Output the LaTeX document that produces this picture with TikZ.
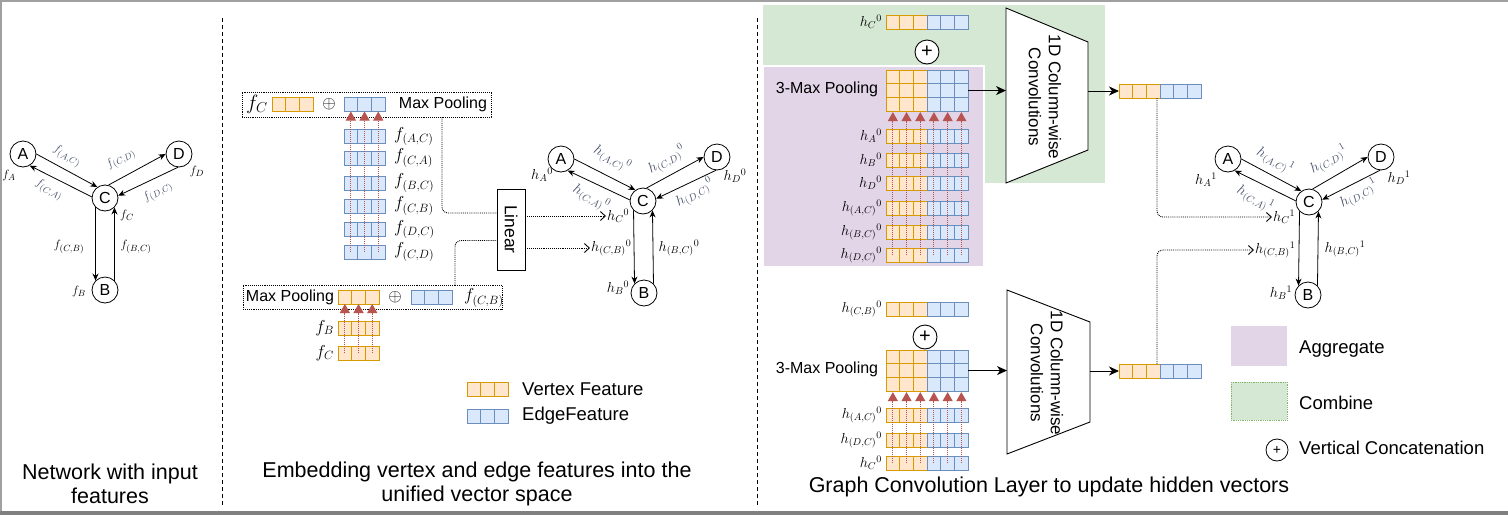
\documentclass[tikz,border=0pt]{standalone}
\usepackage{fontspec}
\usepackage{graphicx}
\setmainfont{Liberation Sans}
\usetikzlibrary{arrows.meta,calc}
\definecolor{ofill}{HTML}{FFE6CC}
\definecolor{odraw}{HTML}{D79B00}
\definecolor{bfill}{HTML}{DAE8FC}
\definecolor{bdraw}{HTML}{6C8EBF}
\definecolor{redc}{HTML}{B85450}
\definecolor{purp}{HTML}{E1D5E7}
\definecolor{grn}{HTML}{D5E8D4}
\definecolor{grnd}{HTML}{82B366}
\definecolor{lab}{RGB}{70,80,105}
\definecolor{framec}{RGB}{160,160,160}
\newcommand\fsz[2]{\fontsize{#1}{#2}\selectfont}
\newcommand\orow[3]{\foreach \i in {1,...,#3}{\draw[oc] ({#1+(\i-1)*13.7},{#2}) rectangle ++(13.7,14);}}
\newcommand\brow[3]{\foreach \i in {1,...,#3}{\draw[bc] ({#1+(\i-1)*13.7},{#2}) rectangle ++(13.7,14);}}
\newcommand\orangev[3]{\node[hb,minimum width=41.1pt] (#1) at (#2,#3) {};\orow{#2}{#3}{3}}
\newcommand\bluev[3]{\node[hb,minimum width=41.1pt] (#1) at (#2,#3) {};\brow{#2}{#3}{3}}
\newcommand\sixv[3]{\node[hb,minimum width=82.2pt] (#1) at (#2,#3) {};\orow{#2}{#3}{3}\brow{#2+41.1}{#3}{3}}
\newcommand\gridv[3]{\node[hb,minimum width=82.2pt,minimum height=41.1pt] (#1) at (#2,#3) {};%
  \foreach \r in {0,1,2}{\orow{#2}{#3+\r*13.7}{3}\brow{#2+41.1}{#3+\r*13.7}{3}}}
\newcommand\gedges[1]{%
  \draw[ed] (#1A.0) -- (#1C.125);
  \draw[ed] (#1C.175) -- (#1A.-60);
  \draw[ed] (#1C.75) -- (#1D.180);
  \draw[ed] (#1D.-95) -- (#1C.10);
  \draw[ed] (#1C.-135) -- (#1B.135);
  \draw[ed] (#1B.45) -- (#1C.-45);}
\begin{document}
\begin{tikzpicture}[x=1pt,y=-1pt,
  vx/.style={circle,draw,line width=0.8pt,minimum size=26pt,inner sep=0pt,font=\fsz{16}{18}},
  ed/.style={draw,-{Stealth[length=7pt,width=6pt]},line width=0.8pt},
  elab/.style={text=lab,font=\fsz{13}{15},inner sep=1pt},
  vlab/.style={font=\fsz{13}{15},inner sep=1pt},
  helab/.style={text=lab,font=\fsz{14}{16},inner sep=1pt},
  hvlab/.style={font=\fsz{14}{16},inner sep=1pt},
  oc/.style={draw=odraw,fill=ofill,line width=0.9pt},
  bc/.style={draw=bdraw,fill=bfill,line width=0.9pt},
  hb/.style={inner sep=0pt,outer sep=0pt,minimum height=14pt,anchor=north west},
  redar/.style={draw=redc,densely dotted,line width=1pt,-{Triangle[length=9pt,width=10pt,fill=redc]}},
  dotline/.style={draw,densely dotted,line width=0.9pt,rounded corners=6pt},
  dotc/.style={dotline,-{Straight Barb[length=5pt,width=9pt]}},
  blk/.style={draw,line width=0.9pt,-{Stealth[length=10pt,width=9pt,inset=3pt]}},
  mtxt/.style={font=\fsz{16}{19},inner sep=0pt},
  ltxt/.style={font=\fsz{18.5}{22},inner sep=0pt,anchor=west},
  ml/.style={font=\fsz{17}{20},inner sep=1pt,anchor=west},
  oplus/.style={circle,draw,line width=0.9pt,minimum size=24pt,inner sep=0pt,fill=white},
  captxt/.style={font=\fsz{21.5}{24},align=center,inner sep=0pt},
]
\useasboundingbox (0,0) rectangle (1508,515);
% frame
\draw[framec,line width=2pt] (0,1) -- (1508,1);
\draw[framec,line width=1.5pt] (0.75,0) -- (0.75,515);
\draw[framec!80!black,line width=4pt] (0,513) -- (1508,513);
% separators
\draw[line width=0.8pt,dash pattern=on 4pt off 3pt] (222,18) -- (222,505);
\draw[line width=0.8pt,dash pattern=on 4pt off 3pt] (757,18) -- (757,505);

% ================= LEFT GRAPH =================
\node[vx] (lA) at (23,154) {A};
\node[vx] (lD) at (179,154) {D};
\node[vx] (lC) at (105,198) {C};
\node[vx] (lB) at (105,290) {B};
\gedges{l}
\node[elab,rotate=-28] at (67,156) {$f_{(A,C)}$};
\node[elab,rotate=-28] at (49,190) {$f_{(C,A)}$};
\node[elab,rotate=30] at (121,159) {$f_{(C,D)}$};
\node[elab,rotate=30] at (158,192) {$f_{(D,C)}$};
\node[vlab] at (69,247) {$f_{(C,B)}$};
\node[vlab] at (136,247) {$f_{(B,C)}$};
\node[vlab] at (9,175) {$f_A$};
\node[vlab] at (197,171) {$f_D$};
\node[vlab] at (127,215) {$f_C$};
\node[vlab] at (79,291) {$f_B$};
\node[captxt] (cap1) at (110,484) {Network with input\\features};

% ================= MIDDLE =================
\node[draw,densely dotted,line width=0.9pt,minimum width=249pt,minimum height=25pt,inner sep=0pt] (boxT) at (366.5,104.5) {};
\node[mtxt,font=\fsz{20}{22}] at (257,104) {$f_C$};
\orangev{mTo}{272}{97.5}
\node[mtxt] at (329,104) {$\oplus$};
\bluev{mTb}{344}{97.5}
\node[mtxt] at (443,104) {Max Pooling};
\bluev{mr1}{344}{129.5}
\bluev{mr2}{344}{151}
\bluev{mr3}{344}{176}
\bluev{mr4}{344}{199}
\bluev{mr5}{344}{222.5}
\bluev{mr6}{344}{245}
\node[ml] at (393,136.5) {$f_{(A,C)}$};
\node[ml] at (393,158) {$f_{(C,A)}$};
\node[ml] at (393,183) {$f_{(B,C)}$};
\node[ml] at (393,206) {$f_{(C,B)}$};
\node[ml] at (393,229.5) {$f_{(D,C)}$};
\node[ml] at (393,252) {$f_{(C,D)}$};
\foreach \i in {0,1,2}{\draw[redar] ($(mr6.west)+({6.85+13.7*\i},0)$) -- ($(mTb.south west)+({6.85+13.7*\i},0)$);}

\node[draw,densely dotted,line width=0.9pt,minimum width=259pt,minimum height=24pt,inner sep=0pt] (boxB) at (372.5,297) {};
\node[mtxt] at (290,297) {Max Pooling};
\orangev{mBo}{338}{290}
\node[mtxt] at (395,297) {$\oplus$};
\bluev{mBb}{411}{290}
\node[ml] at (463,298) {$f_{(C,B)}$};
\orangev{mfB}{338}{321.5}
\orangev{mfC}{338}{346}
\node[ml,anchor=east] at (335,328) {$f_B$};
\node[ml,anchor=east] at (335,353) {$f_C$};
\foreach \i in {0,1,2}{\draw[redar] ($(mfC.west)+({6.85+13.7*\i},0)$) -- ($(mBo.south west)+({6.85+13.7*\i},0)$);}

\node[draw,line width=0.9pt,minimum width=28pt,minimum height=81pt,inner sep=0pt,fill=white] (lin) at (511,229.5) {\rotatebox{-90}{\fsz{17.5}{20}Linear}};
\draw[dotline] ($(boxT.south)+(75.5,0)$) |- ($(lin.west)+(0,-16.5)$);
\draw[dotline] ($(boxB.north)+(82.5,0)$) |- ($(lin.west)+(0,11)$);

% middle graph
\node[vx] (mA) at (561,159) {A};
\node[vx] (mD) at (717,157) {D};
\node[vx] (mC) at (643,201) {C};
\node[vx] (mB) at (644,293) {B};
\gedges{m}
\node[helab,rotate=-28] at (612,159) {$h_{(A,C)}{}^{0}$};
\node[helab,rotate=-28] at (591,198) {$h_{(C,A)}{}^{0}$};
\node[helab,rotate=30] at (667,160) {$h_{(C,D)}{}^{0}$};
\node[helab,rotate=30] at (695,193) {$h_{(D,C)}{}^{0}$};
\node[hvlab] at (542,175) {$h_A{}^0$};
\node[hvlab] at (735,176) {$h_D{}^0$};
\node[hvlab] at (679,248) {$h_{(B,C)}{}^{0}$};
\node[hvlab] at (618,288) {$h_B{}^0$};
\node[hvlab,anchor=west] (hC0) at (606,216) {$h_C{}^0$};
\node[hvlab,anchor=west] (hCB0) at (590,248) {$h_{(C,B)}{}^{0}$};
\draw[dotc] (lin.east |- hC0.west) -- (hC0.west);
\draw[dotc] (lin.east |- hCB0.west) -- (hCB0.west);

% legend middle
\orangev{lgO}{467}{382}
\bluev{lgB}{467}{409}
\node[ltxt] at (522,389) {Vertex Feature};
\node[ltxt] at (522,416) {EdgeFeature};
\node[captxt] (cap2) at (477,484) {Embedding vertex and edge features into the\\unified vector space};

% ================= RIGHT =================
\fill[grn] (763,5) rectangle (1105,183);
\draw[white,line width=2pt,fill=purp] (763,66) rectangle (984,267);

% top block
\sixv{rC}{886}{15}
\node[hvlab,anchor=east] at (883,22) {$h_C{}^0$};
\node[oplus] (opT) at (927,52) {\raisebox{-2pt}{\fsz{20}{20}+}};
\gridv{gT}{886}{70}
\node[mtxt] at (827,89) {3-Max Pooling};
\sixv{rt1}{886}{129}
\sixv{rt2}{886}{153}
\sixv{rt3}{886}{176}
\sixv{rt4}{886}{201}
\sixv{rt5}{886}{225}
\sixv{rt6}{886}{248}
\node[hvlab,anchor=east] at (883,136) {$h_A{}^0$};
\node[hvlab,anchor=east] at (883,160) {$h_B{}^0$};
\node[hvlab,anchor=east] at (883,183) {$h_D{}^0$};
\node[hvlab,anchor=east] at (883,208) {$h_{(A,C)}{}^{0}$};
\node[hvlab,anchor=east] at (883,232) {$h_{(B,C)}{}^{0}$};
\node[hvlab,anchor=east] at (883,255) {$h_{(D,C)}{}^{0}$};
\foreach \i in {0,...,5}{\draw[redar] ($(rt6.west)+({6.85+13.7*\i},0)$) -- ($(gT.south west)+({6.85+13.7*\i},1)$);}

\coordinate (tT1) at (1006,8);
\coordinate (tT2) at (1088,42);
\coordinate (tT3) at (1088,150);
\coordinate (tT4) at (1006,183);
\draw[line width=0.9pt,fill=white] (tT1) -- (tT2) -- (tT3) -- (tT4) -- cycle;
\node[rotate=-90,align=center,font=\fsz{17}{20}] at (1045,97) {1D Column-wise\\Convolutions};
\sixv{outT}{1119}{84}
\draw[blk] (gT.east) -- (tT1 |- gT.east);
\draw[blk] (tT2 |- outT.west) -- (outT.west);

% bottom block
\sixv{rCB}{886}{302}
\node[hvlab,anchor=east] at (883,309) {$h_{(C,B)}{}^{0}$};
\node[oplus] (opB) at (925,337) {\raisebox{-2pt}{\fsz{20}{20}+}};
\gridv{gB}{886}{350}
\node[mtxt] at (827,369) {3-Max Pooling};
\sixv{rb1}{886}{408}
\sixv{rb2}{886}{433}
\sixv{rb3}{886}{456}
\node[hvlab,anchor=east] at (883,415) {$h_{(A,C)}{}^{0}$};
\node[hvlab,anchor=east] at (883,440) {$h_{(D,C)}{}^{0}$};
\node[hvlab,anchor=east] at (883,463) {$h_C{}^0$};
\foreach \i in {0,...,5}{\draw[redar] ($(rb3.west)+({6.85+13.7*\i},0)$) -- ($(gB.south west)+({6.85+13.7*\i},1)$);}

\coordinate (tB1) at (1007,290);
\coordinate (tB2) at (1090,322);
\coordinate (tB3) at (1090,422);
\coordinate (tB4) at (1007,454);
\draw[line width=0.9pt,fill=white] (tB1) -- (tB2) -- (tB3) -- (tB4) -- cycle;
\node[rotate=-90,align=center,font=\fsz{17}{20}] at (1047,373) {1D Column-wise\\Convolutions};
\sixv{outB}{1119}{364}
\draw[blk] (gB.east) -- (tB1 |- gB.east);
\draw[blk] (tB2 |- outB.west) -- (outB.west);

% right graph
\node[vx] (rA) at (1228,159) {A};
\node[vx] (rD) at (1381,157) {D};
\node[vx] (rC) at (1309,202) {C};
\node[vx] (rB) at (1308,295) {B};
\gedges{r}
\node[helab,rotate=-28] at (1275,161) {$h_{(A,C)}{}^{1}$};
\node[helab,rotate=-28] at (1255,199) {$h_{(C,A)}{}^{1}$};
\node[helab,rotate=30] at (1329,160) {$h_{(C,D)}{}^{1}$};
\node[helab,rotate=30] at (1359,194) {$h_{(D,C)}{}^{1}$};
\node[hvlab] at (1206,180) {$h_A{}^1$};
\node[hvlab] at (1399,178) {$h_D{}^1$};
\node[hvlab] at (1345,249) {$h_{(B,C)}{}^{1}$};
\node[hvlab] at (1281,293) {$h_B{}^1$};
\node[hvlab,anchor=west] (hC1) at (1272,217) {$h_C{}^1$};
\node[hvlab,anchor=west] (hCB1) at (1254,250) {$h_{(C,B)}{}^{1}$};
\draw[dotc] ($(outT.south west)+(38,0)$) |- (hC1.west);
\draw[dotc] ($(outB.north west)+(38,0)$) |- (hCB1.west);

% legend right
\fill[purp] (1231,326) rectangle (1287,366);
\draw[grnd,densely dotted,line width=0.8pt,fill=grn] (1231,382) rectangle (1287,420);
\node[circle,draw,line width=0.8pt,minimum size=22pt,inner sep=0pt] (lgC) at (1277,450) {\raisebox{-4pt}{\fsz{14}{14}+}};
\node[ltxt] at (1299,349) {Aggregate};
\node[ltxt] at (1299,403) {Combine};
\node[ltxt] at (1299,448) {Vertical Concatenation};
\node[captxt] (cap3) at (1049,487) {Graph Convolution Layer to update hidden vectors};
\end{tikzpicture}
\end{document}
